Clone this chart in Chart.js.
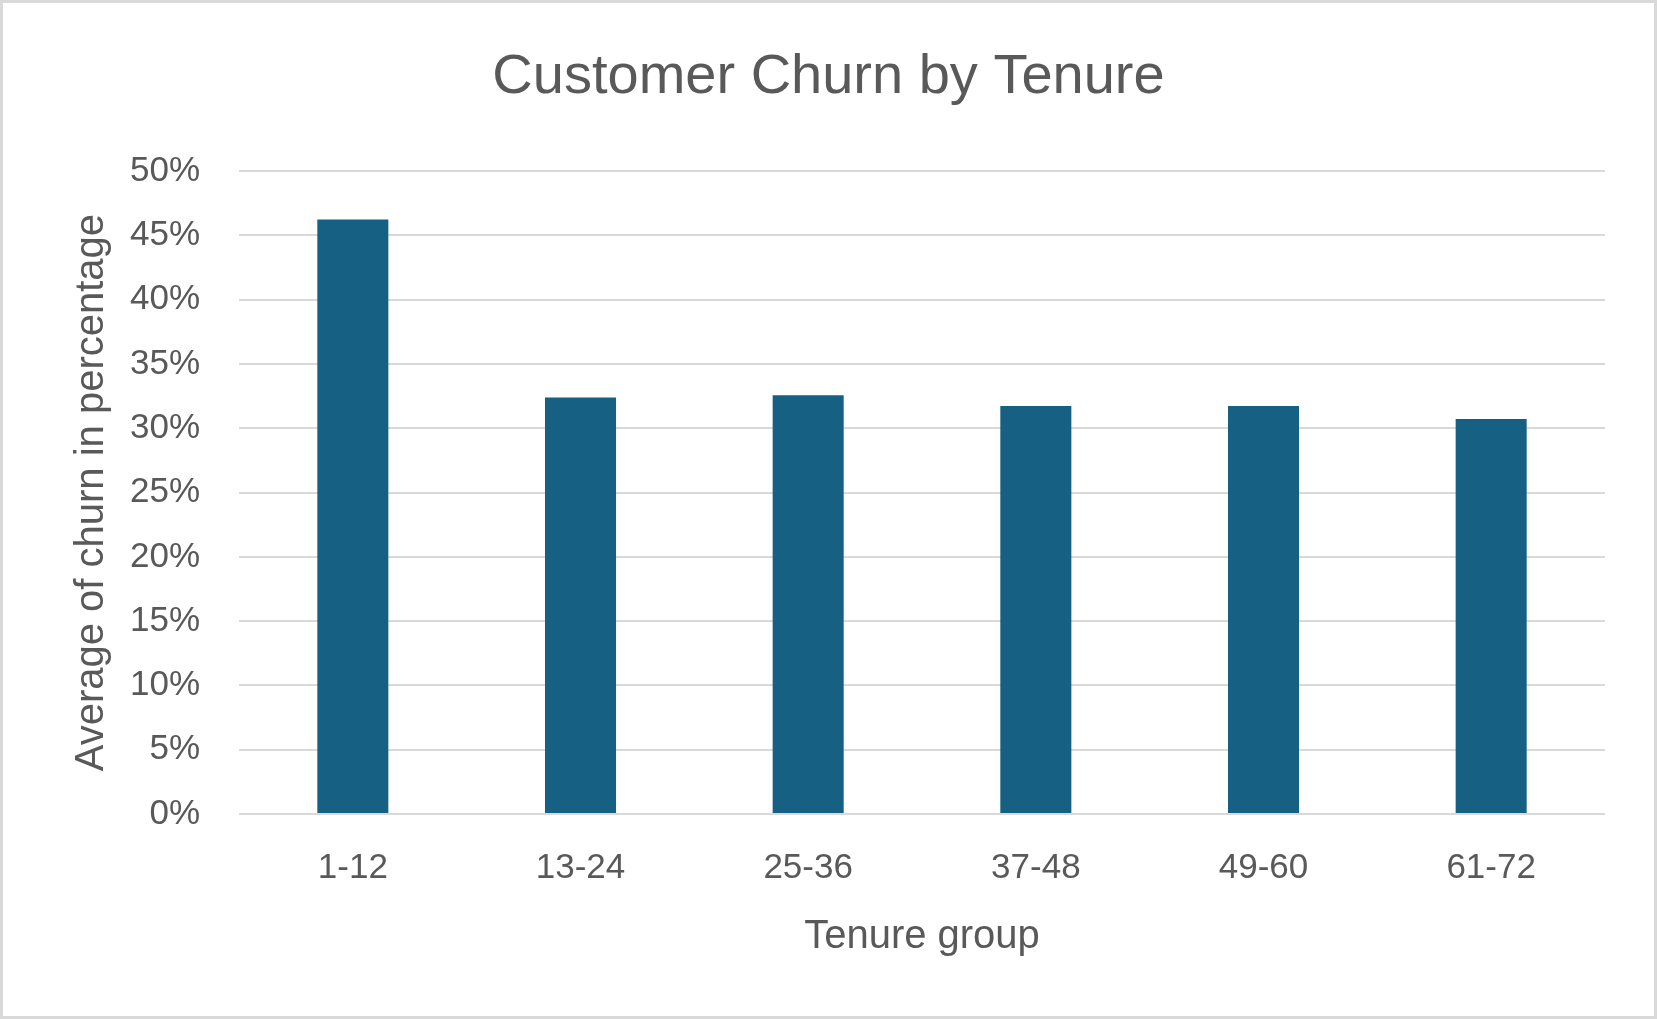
<!DOCTYPE html>
<html>
<head>
<meta charset="utf-8">
<title>Customer Churn by Tenure</title>
<script src="https://cdn.jsdelivr.net/npm/chart.js@4.4.1/dist/chart.umd.min.js"></script>
<style>
    html, body { margin: 0; padding: 0; background: #ffffff; }
    #chart { display: block; }
</style>
</head>
<body>
<canvas id="chart" width="1657" height="1019"></canvas>
<script>
    // Chart data
    const tenureGroups = ['1-12', '13-24', '25-36', '37-48', '49-60', '61-72']
    const churnPercent = [46.24, 32.40, 32.58, 31.73, 31.73, 30.72]

    // Axis settings
    const yMin = 0
    const yMax = 50
    const yStep = 5

    const TEXT_COLOR = '#595959'
    const GRID_COLOR = '#d9d9d9'
    const BAR_COLOR = '#166083'
    const FONT = '"Liberation Sans", Arial, sans-serif'

    // White background and light frame round the whole chart
    const framePlugin = {
        id: 'frame',
        beforeDraw(chart) {
            const ctx = chart.ctx
            ctx.save()
            ctx.fillStyle = '#ffffff'
            ctx.fillRect(0, 0, chart.width, chart.height)
            ctx.restore()
        },
        afterDraw(chart) {
            const ctx = chart.ctx
            ctx.save()
            ctx.strokeStyle = GRID_COLOR
            ctx.lineWidth = 3
            ctx.strokeRect(1.5, 1.5, chart.width - 3, chart.height - 3)
            ctx.restore()
        }
    }

    let ctx = document.getElementById('chart')

    let myChart = new Chart(ctx, {
        type: 'bar',
        data: {
            labels: tenureGroups,
            datasets: [{
                label: 'Average of churn in percentage',
                data: churnPercent,
                backgroundColor: BAR_COLOR,
                borderWidth: 0,
                categoryPercentage: 1,
                barPercentage: 0.312
            }]
        },
        options: {
            responsive: false,
            devicePixelRatio: 1,
            animation: false,
            layout: {
                padding: 0
            },
            plugins: {
                legend: { display: false },
                tooltip: { enabled: false },
                title: {
                    display: true,
                    text: 'Customer Churn by Tenure',
                    color: TEXT_COLOR,
                    font: { family: FONT, size: 56, weight: 'normal', lineHeight: 1.2 },
                    padding: { top: 44, bottom: 60 }
                }
            },
            scales: {
                x: {
                    grid: { display: false, drawTicks: false },
                    border: { display: false },
                    ticks: {
                        color: TEXT_COLOR,
                        font: { family: FONT, size: 35 },
                        padding: 33,
                        maxRotation: 0
                    },
                    title: {
                        display: true,
                        text: 'Tenure group',
                        color: TEXT_COLOR,
                        font: { family: FONT, size: 40, lineHeight: 1.2 },
                        padding: { top: 0, bottom: 58 }
                    },
                    afterFit(scale) {
                        scale.height = 1019 - 814
                    }
                },
                y: {
                    min: yMin,
                    max: yMax,
                    grid: {
                        color: GRID_COLOR,
                        lineWidth: 2,
                        drawTicks: false
                    },
                    border: { display: false },
                    ticks: {
                        stepSize: yStep,
                        color: TEXT_COLOR,
                        font: { family: FONT, size: 35 },
                        padding: 39,
                        callback: function (value) { return value + '%' }
                    },
                    title: {
                        display: true,
                        text: 'Average of churn in percentage',
                        color: TEXT_COLOR,
                        font: { family: FONT, size: 40, lineHeight: 1.2 },
                        padding: { top: 68, bottom: 0 }
                    },
                    afterFit(scale) {
                        scale.width = 239
                    }
                },
                // empty strip on the right so the title stays centred on the whole chart
                spacer: {
                    position: 'right',
                    display: true,
                    grid: { display: false, drawTicks: false },
                    border: { display: false },
                    ticks: { display: false },
                    afterFit(scale) {
                        scale.width = 52
                    }
                }
            }
        },
        plugins: [framePlugin]
    })
</script>
</body>
</html>
